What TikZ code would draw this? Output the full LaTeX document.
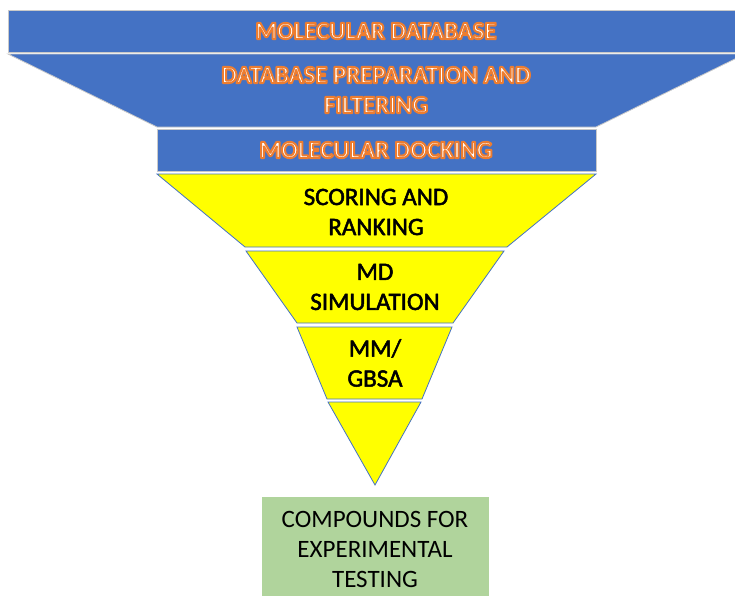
\documentclass[tikz,border=0pt]{standalone}
\usepackage{fontspec}
\setmainfont{Carlito}
\definecolor{funnelblue}{HTML}{4472C4}
\definecolor{funnelyellow}{HTML}{FFFF00}
\definecolor{resultgreen}{HTML}{B0D49C}
\definecolor{edgegray}{HTML}{C9C9C9}
% white letters with an orange stroke (PDF text render mode 2)
\newcommand\orangeoutline[1]{\special{pdf:literal direct 2 Tr 2 w 1 j 0.93 0.49 0.19 RG}#1\special{pdf:literal direct 0 Tr}}
% slightly heavier black letters
\newcommand\heavytext[1]{\special{pdf:literal direct 2 Tr 0.5 w 1 j 0 0 0 RG}#1\special{pdf:literal direct 0 Tr}}
\tikzset{
  bluestage/.style={fill=funnelblue, draw=edgegray, line width=0.8pt},
  yellowstage/.style={fill=funnelyellow, draw=funnelblue, line width=0.8pt},
  bluelabel/.style={text=white, font=\fontsize{24.8}{30}\selectfont\bfseries, align=center, inner sep=0pt},
  darklabel/.style={text=black, font=\fontsize{25}{30}\selectfont, align=center, inner sep=0pt},
}
\begin{document}
\begin{tikzpicture}[x=1pt, y=-1pt]
\useasboundingbox (0,0) rectangle (735,595);
\clip (0,0) rectangle (735,595);
% blue stages
\draw[bluestage] (8,10) rectangle (745,52);
\draw[bluestage] (8,54) -- (745,54) -- (596,127) -- (157,127) -- cycle;
\draw[bluestage] (157,129) rectangle (596,171);
% yellow funnel
\draw[yellowstage] (157,174) -- (596,174) -- (507,247) -- (245,247) -- cycle;
\draw[yellowstage] (246,251) -- (504,251) -- (453,323) -- (297,323) -- cycle;
\draw[yellowstage] (297,327) -- (452,327) -- (422,399) -- (327,399) -- cycle;
\draw[yellowstage] (328,402) -- (421,402) -- (375,485) -- cycle;
% outcome box
\fill[resultgreen] (262,497) rectangle (489,600);
% labels
\node[bluelabel] (db) at (376,31) {\orangeoutline{MOLECULAR DATABASE}};
\node[bluelabel] (prep) at (376,90) {\orangeoutline{DATABASE PREPARATION AND}\\\orangeoutline{FILTERING}};
\node[bluelabel] (dock) at (376,150) {\orangeoutline{MOLECULAR DOCKING}};
\node[darklabel] (score) at (376,212) {\heavytext{SCORING AND}\\\heavytext{RANKING}};
\node[darklabel] (md) at (375,287) {\heavytext{MD}\\\heavytext{SIMULATION}};
\node[darklabel] (mm) at (375,363) {\heavytext{MM/}\\\heavytext{GBSA}};
\node[darklabel] (out) at (375,549) {COMPOUNDS FOR\\EXPERIMENTAL\\TESTING};
\end{tikzpicture}
\end{document}
